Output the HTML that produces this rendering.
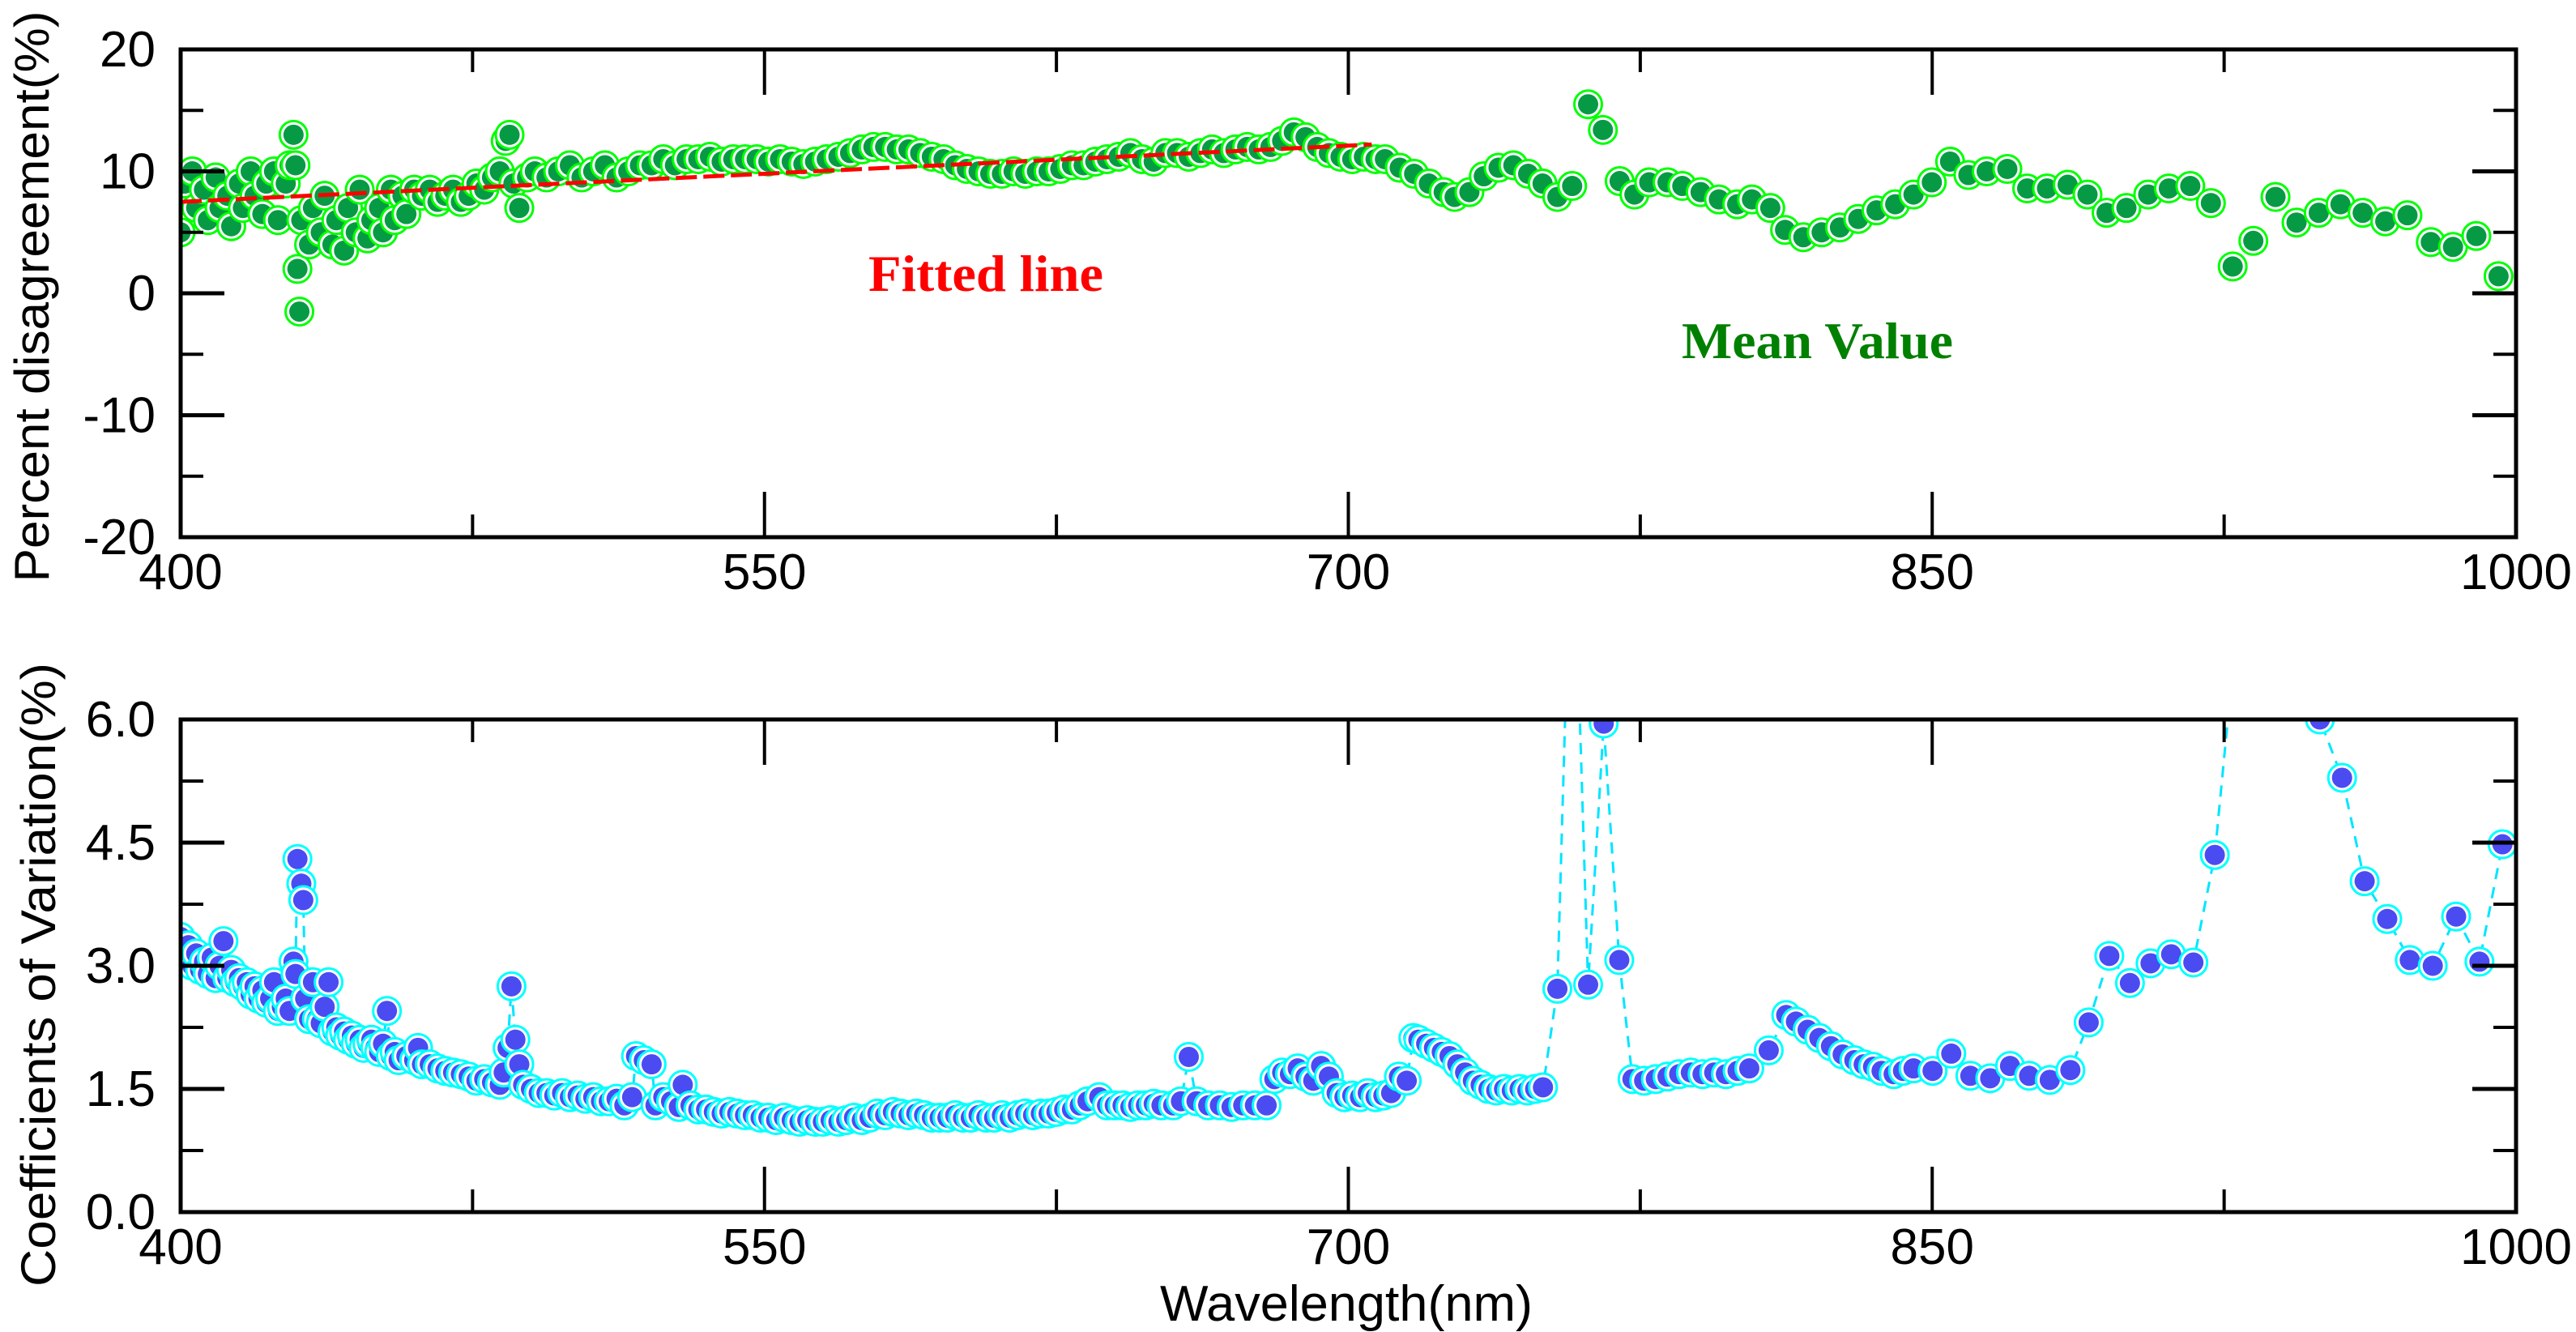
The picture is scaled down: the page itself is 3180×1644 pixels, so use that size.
<!DOCTYPE html>
<html><head><meta charset="utf-8"><style>
html,body{margin:0;padding:0;background:#fff;}
svg{display:block;font-family:"Liberation Sans",sans-serif;}
</style></head>
<body>
<svg id="chart" xmlns="http://www.w3.org/2000/svg" width="3180" height="1644" viewBox="0 0 3180 1644">
<defs>
<clipPath id="clipTop"><rect x="223" y="61" width="2884" height="602"/></clipPath>
<clipPath id="clipBot"><rect x="223" y="888" width="2884" height="608"/></clipPath>
</defs>
<rect width="3180" height="1644" fill="#fff"/>
<g id="topPlot"></g>
<g id="botPlot"></g>
<text x="0" y="0" transform="translate(60,366) rotate(-90)" text-anchor="middle" font-size="60" textLength="705" lengthAdjust="spacingAndGlyphs" fill="#000">Percent disagreement(%)</text>
<text x="0" y="0" transform="translate(68,1203) rotate(-90)" text-anchor="middle" font-size="60" textLength="770" lengthAdjust="spacingAndGlyphs" fill="#000">Coefficients of Variation(%)</text>
<text x="1662" y="1630" text-anchor="middle" font-size="62" textLength="460" lengthAdjust="spacingAndGlyphs" fill="#000">Wavelength(nm)</text>
<text x="1072" y="359" font-family="Liberation Serif, serif" font-weight="bold" font-size="64" textLength="290" lengthAdjust="spacingAndGlyphs" fill="#ff0000">Fitted line</text>
<text x="2076" y="442" font-family="Liberation Serif, serif" font-weight="bold" font-size="64" textLength="335" lengthAdjust="spacingAndGlyphs" fill="#008000">Mean Value</text>
</svg>
<script>
const xTicks = [400, 550, 700, 850, 1000];
const xMinorTicks = [475, 625, 775, 925];
const pdTicks = [20, 10, 0, -10, -20];
const pdTickLabels = ["20", "10", "0", "-10", "-20"];
const pdMinorTicks = [15, 5, -5, -15];
const cvTicks = [6.0, 4.5, 3.0, 1.5, 0.0];
const cvTickLabels = ["6.0", "4.5", "3.0", "1.5", "0.0"];
const cvMinorTicks = [5.25, 3.75, 2.25, 0.75];

const fitWavelengths = [400, 706];
const fitValues = [7.5, 12.2];

const pdWavelengths = [400,401,403,404,406,407,409,410,412,413,415,416,418,419,421,422,424,425,427,428,429,429.5,430,430.5,431,433,434,436,437,439,440,442,443,445,446,448,449,451,452,454,455,457,458,460,462,464,466,468,470,472,474,476,478,480,482,483.5,484.5,485.5,487,489,491,494,497,500,503,506,509,512,515,518,521,524,527,530,533,536,539,542,545,548,551,554,557,560,563,566,569,572,575,578,581,584,587,590,593,596,599,602,605,608,611,614,617,620,623,626,629,632,635,638,641,644,647,650,653,656,659,662,665,668,671,674,677,680,683,686,689,692,695,698,701,704,707,
709.4,713.2,716.9,720.7,724.5,727.3,731.1,734.8,738.6,742.4,746.2,749.9,753.7,757.5,761.6,765.4,769.7,773.5,777.3,782,785.8,790.5,795.2,799.9,803.7,808.4,812.2,816.9,821.6,826.3,831,835.7,840.5,845.2,849.9,854.6,859.3,864,869.3,874.4,879.5,884.8,889.9,894.8,899.9,905.5,910.8,916.3,921.6,927.2,932.5,938.2,943.6,949.3,954.9,960.6,966.4,972.1,978.1,983.8,989.8,995.5];
const pdValues = [5,9,10,7,8.5,6,9.5,7,8,5.5,9,7,10,8,6.5,9,10,6,9,10.5,13,10.5,2,-1.5,6,4,7,5,8,4,6,3.5,7,5,8.5,4.5,6,7,5,8.5,6,8,6.5,8.5,8,8.5,7.5,8,8.5,7.5,8,9,8.5,9.5,10,12.5,13,9,7,9.5,10,9.5,10,10.5,9.5,10,10.5,9.5,10,10.5,10.5,11,10.5,11,11,11.2,10.8,11,11,11,10.8,11,10.8,10.6,10.8,11,11.2,11.5,11.8,12,12,11.8,11.8,11.5,11.2,11,10.5,10.2,10,9.8,9.8,10,9.8,10,10,10.2,10.5,10.5,10.8,11,11.2,11.5,11,10.8,11.5,11.5,11.2,11.5,11.8,11.5,11.8,12,11.8,12,12.5,13.2,12.8,12,11.5,11.2,11,11.2,11,
11,10.3,9.8,9,8.3,7.9,8.3,9.6,10.3,10.5,9.8,9,7.9,8.8,15.5,13.4,9.2,8.1,9.1,9.1,8.8,8.3,7.7,7.3,7.7,7,5.2,4.6,5,5.4,6.1,6.8,7.3,8.1,9.1,10.8,9.7,10,10.2,8.6,8.6,8.9,8.1,6.6,7,8.1,8.6,8.8,7.4,2.2,4.3,7.9,5.8,6.6,7.3,6.6,5.9,6.4,4.2,3.8,4.7,1.4];

const cvWavelengths = [400,401,402,403,404,405,406,407,408,409,410,411,412,413,414,415,416,417,418,419,420,421,422,423,424,425,426,427,428,429,429.5,430,431,431.5,432,433,434,435,436,437,438,439,440,441,442,443,444,445,446,447,448,449,450,451,452,453,454,455,456,458,460,461,462,464,466,468,470,472,474,476,478,480,482,483,484,485,486,487,488,490,492,494,496,498,500,502,504,506,508,510,512,514,516,517,519,521,522,524,526,528,529,531,533,535,537,539,541,543,545,547,549,551,553,555,557,559,561,563,565,567,569,571,573,575,577,579,581,583,585,587,589,591,593,595,597,599,601,603,605,607,609,611,613,615,617,619,621,623,625,627,629,631,633,636,638,640,642,644,646,648,650,652,655,657,659,661,664,667,670,673,676,679,681,683,685,687,689,691,693,695,697,699,701,703,705,707,709,711,713,715,716.7,718,720,722,724,726,728,730,732,734,736,738,740,742,744,746,748,750,753.7,757.5,761.6,765.6,769.6,773,776,779,782,785,788,791,794,797,800,803,808,812.5,815,818,821,824,827,830,832.4,834.8,837,840.1,842.5,845.2,850.1,854.9,859.8,864.9,870,874.9,880.2,885.5,890.2,895.5,900.8,906.1,911.4,917.1,922.6,929,936,943,949.6,955.3,961.1,966.9,972.7,978.6,984.6,990.6,996.5];
const cvValues = [3.35,3.1,3.25,3.0,3.15,2.95,3.05,2.9,3.1,2.85,3.0,3.3,2.85,2.95,2.8,2.85,2.75,2.8,2.65,2.75,2.6,2.7,2.55,2.6,2.8,2.45,2.5,2.6,2.45,3.05,2.9,4.3,4.0,3.8,2.6,2.35,2.8,2.35,2.3,2.5,2.8,2.2,2.25,2.15,2.2,2.1,2.15,2.05,2.1,2.0,2.05,2.1,2.0,1.95,2.05,2.45,1.9,1.95,1.85,1.9,1.85,2.0,1.8,1.8,1.75,1.72,1.7,1.68,1.65,1.6,1.62,1.58,1.55,1.7,2.0,2.75,2.1,1.8,1.55,1.5,1.45,1.45,1.42,1.45,1.4,1.42,1.38,1.4,1.35,1.35,1.38,1.3,1.4,1.9,1.85,1.8,1.3,1.4,1.35,1.28,1.55,1.3,1.25,1.25,1.22,1.2,1.22,1.2,1.18,1.18,1.15,1.15,1.12,1.15,1.12,1.1,1.12,1.1,1.1,1.12,1.1,1.12,1.15,1.12,1.15,1.2,1.18,1.22,1.2,1.18,1.2,1.18,1.15,1.15,1.15,1.18,1.15,1.15,1.18,1.15,1.15,1.18,1.15,1.18,1.2,1.18,1.2,1.2,1.22,1.25,1.25,1.3,1.35,1.4,1.3,1.3,1.3,1.28,1.3,1.3,1.32,1.3,1.3,1.35,1.89,1.35,1.3,1.3,1.28,1.3,1.3,1.3,1.62,1.7,1.68,1.75,1.65,1.6,1.78,1.65,1.45,1.4,1.42,1.4,1.45,1.4,1.42,1.45,1.65,1.6,2.12,2.1,2.05,2.0,1.95,1.9,1.8,1.7,1.6,1.55,1.5,1.48,1.5,1.48,1.5,1.48,1.5,1.52,2.72,9,2.77,5.95,3.07,1.62,1.6,1.62,1.65,1.68,1.7,1.68,1.7,1.68,1.72,1.75,1.97,2.4,2.32,2.22,2.12,2.02,1.92,1.85,1.8,1.77,1.72,1.68,1.72,1.75,1.72,1.93,1.66,1.63,1.78,1.66,1.61,1.73,2.31,3.12,2.79,3.03,3.14,3.04,4.35,7.5,8.5,7.5,6.0,5.29,4.03,3.57,3.07,3.0,3.6,3.05,4.48];

const NS = "http://www.w3.org/2000/svg";
const X0 = 223, X1 = 3106;
function xScale(v){ return X0 + (v - 400) / 600 * (X1 - X0); }
function yTop(v){ return 61 + (20 - v) / 40 * 602; }
function yBot(v){ return 888 + (6 - v) / 6 * 608; }
function mk(tag, attrs, parent){
  const e = document.createElementNS(NS, tag);
  for (const k in attrs) e.setAttribute(k, attrs[k]);
  parent.appendChild(e);
  return e;
}

function drawAxes(g, yFn, top, bottom, majors, labels, minors, prefix){
  // x ticks (bottom and top)
  xTicks.forEach(function(t){
    const x = xScale(t);
    const a = mk("line", {x1:x, x2:x, y1:bottom, y2:bottom-56, stroke:"#000", "stroke-width":4}, g);
    
    
    const b = mk("line", {x1:x, x2:x, y1:top, y2:top+56, stroke:"#000", "stroke-width":4}, g);
    
    
    const lab = mk("text", {x:x, y:bottom+64, "text-anchor":"middle", "font-size":62, fill:"#000"}, g);
    
    
    lab.textContent = String(t);
  });
  xMinorTicks.forEach(function(t){
    const x = xScale(t);
    const a = mk("line", {x1:x, x2:x, y1:bottom, y2:bottom-28, stroke:"#000", "stroke-width":4}, g);
    
    
    const b = mk("line", {x1:x, x2:x, y1:top, y2:top+28, stroke:"#000", "stroke-width":4}, g);
    
    
  });
  majors.forEach(function(t, i){
    const y = yFn(t);
    const a = mk("line", {x1:X0, x2:X0+54, y1:y, y2:y, stroke:"#000", "stroke-width":5}, g);
    
    
    const b = mk("line", {x1:X1, x2:X1-54, y1:y, y2:y, stroke:"#000", "stroke-width":5}, g);
    
    
    const lab = mk("text", {x:192, y:y+21, "text-anchor":"end", "font-size":62, fill:"#000"}, g);
    
    
    lab.textContent = labels[i];
  });
  minors.forEach(function(t){
    const y = yFn(t);
    const a = mk("line", {x1:X0, x2:X0+28, y1:y, y2:y, stroke:"#000", "stroke-width":4}, g);
    
    
    const b = mk("line", {x1:X1, x2:X1-28, y1:y, y2:y, stroke:"#000", "stroke-width":4}, g);
    
    
  });
  const fr = mk("rect", {x:X0, y:top, width:X1-X0, height:bottom-top, fill:"none", stroke:"#000", "stroke-width":5}, g);
  
  
}

// ---------- top panel ----------
const gT = document.getElementById("topPlot");
const topMarks = mk("g", {"clip-path":"url(#clipTop)"}, gT);


const nT = Math.min(pdWavelengths.length, pdValues.length);
for (let i = 0; i < nT; i++){
  const cx = xScale(pdWavelengths[i]), cy = yTop(pdValues[i]);
  const ring = mk("circle", {cx:cx, cy:cy, r:17, fill:"#fff", stroke:"#00ff00", "stroke-width":3}, topMarks);
  
  
  const dot = mk("circle", {cx:cx, cy:cy, r:12.5, fill:"#079a45"}, topMarks);
  
  
}
const fit = mk("line", {x1:xScale(fitWavelengths[0]), y1:yTop(fitValues[0]), x2:xScale(fitWavelengths[1]), y2:yTop(fitValues[1]), stroke:"#ff0000", "stroke-width":5, "stroke-dasharray":"26 8"}, gT);


drawAxes(gT, yTop, 61, 663, pdTicks, pdTickLabels, pdMinorTicks, 'top');

// ---------- bottom panel ----------
const gB = document.getElementById("botPlot");
const botMarks = mk("g", {"clip-path":"url(#clipBot)"}, gB);


const nB = Math.min(cvWavelengths.length, cvValues.length);
let d = "";
for (let i = 0; i < nB; i++){
  d += (i ? "L" : "M") + xScale(cvWavelengths[i]).toFixed(1) + " " + yBot(cvValues[i]).toFixed(1) + " ";
}
const cvLine = mk("path", {d:d, fill:"none", stroke:"#00e5ff", "stroke-width":3, "stroke-dasharray":"14 10"}, botMarks);


for (let i = 0; i < nB; i++){
  const cx = xScale(cvWavelengths[i]), cy = yBot(cvValues[i]);
  const ring = mk("circle", {cx:cx, cy:cy, r:17, fill:"#fff", stroke:"#00ffff", "stroke-width":3}, botMarks);
  
  
  const dot = mk("circle", {cx:cx, cy:cy, r:12.5, fill:"#4b4bf2"}, botMarks);
  
  
}
drawAxes(gB, yBot, 888, 1496, cvTicks, cvTickLabels, cvMinorTicks, 'bottom');
</script>
</body></html>
